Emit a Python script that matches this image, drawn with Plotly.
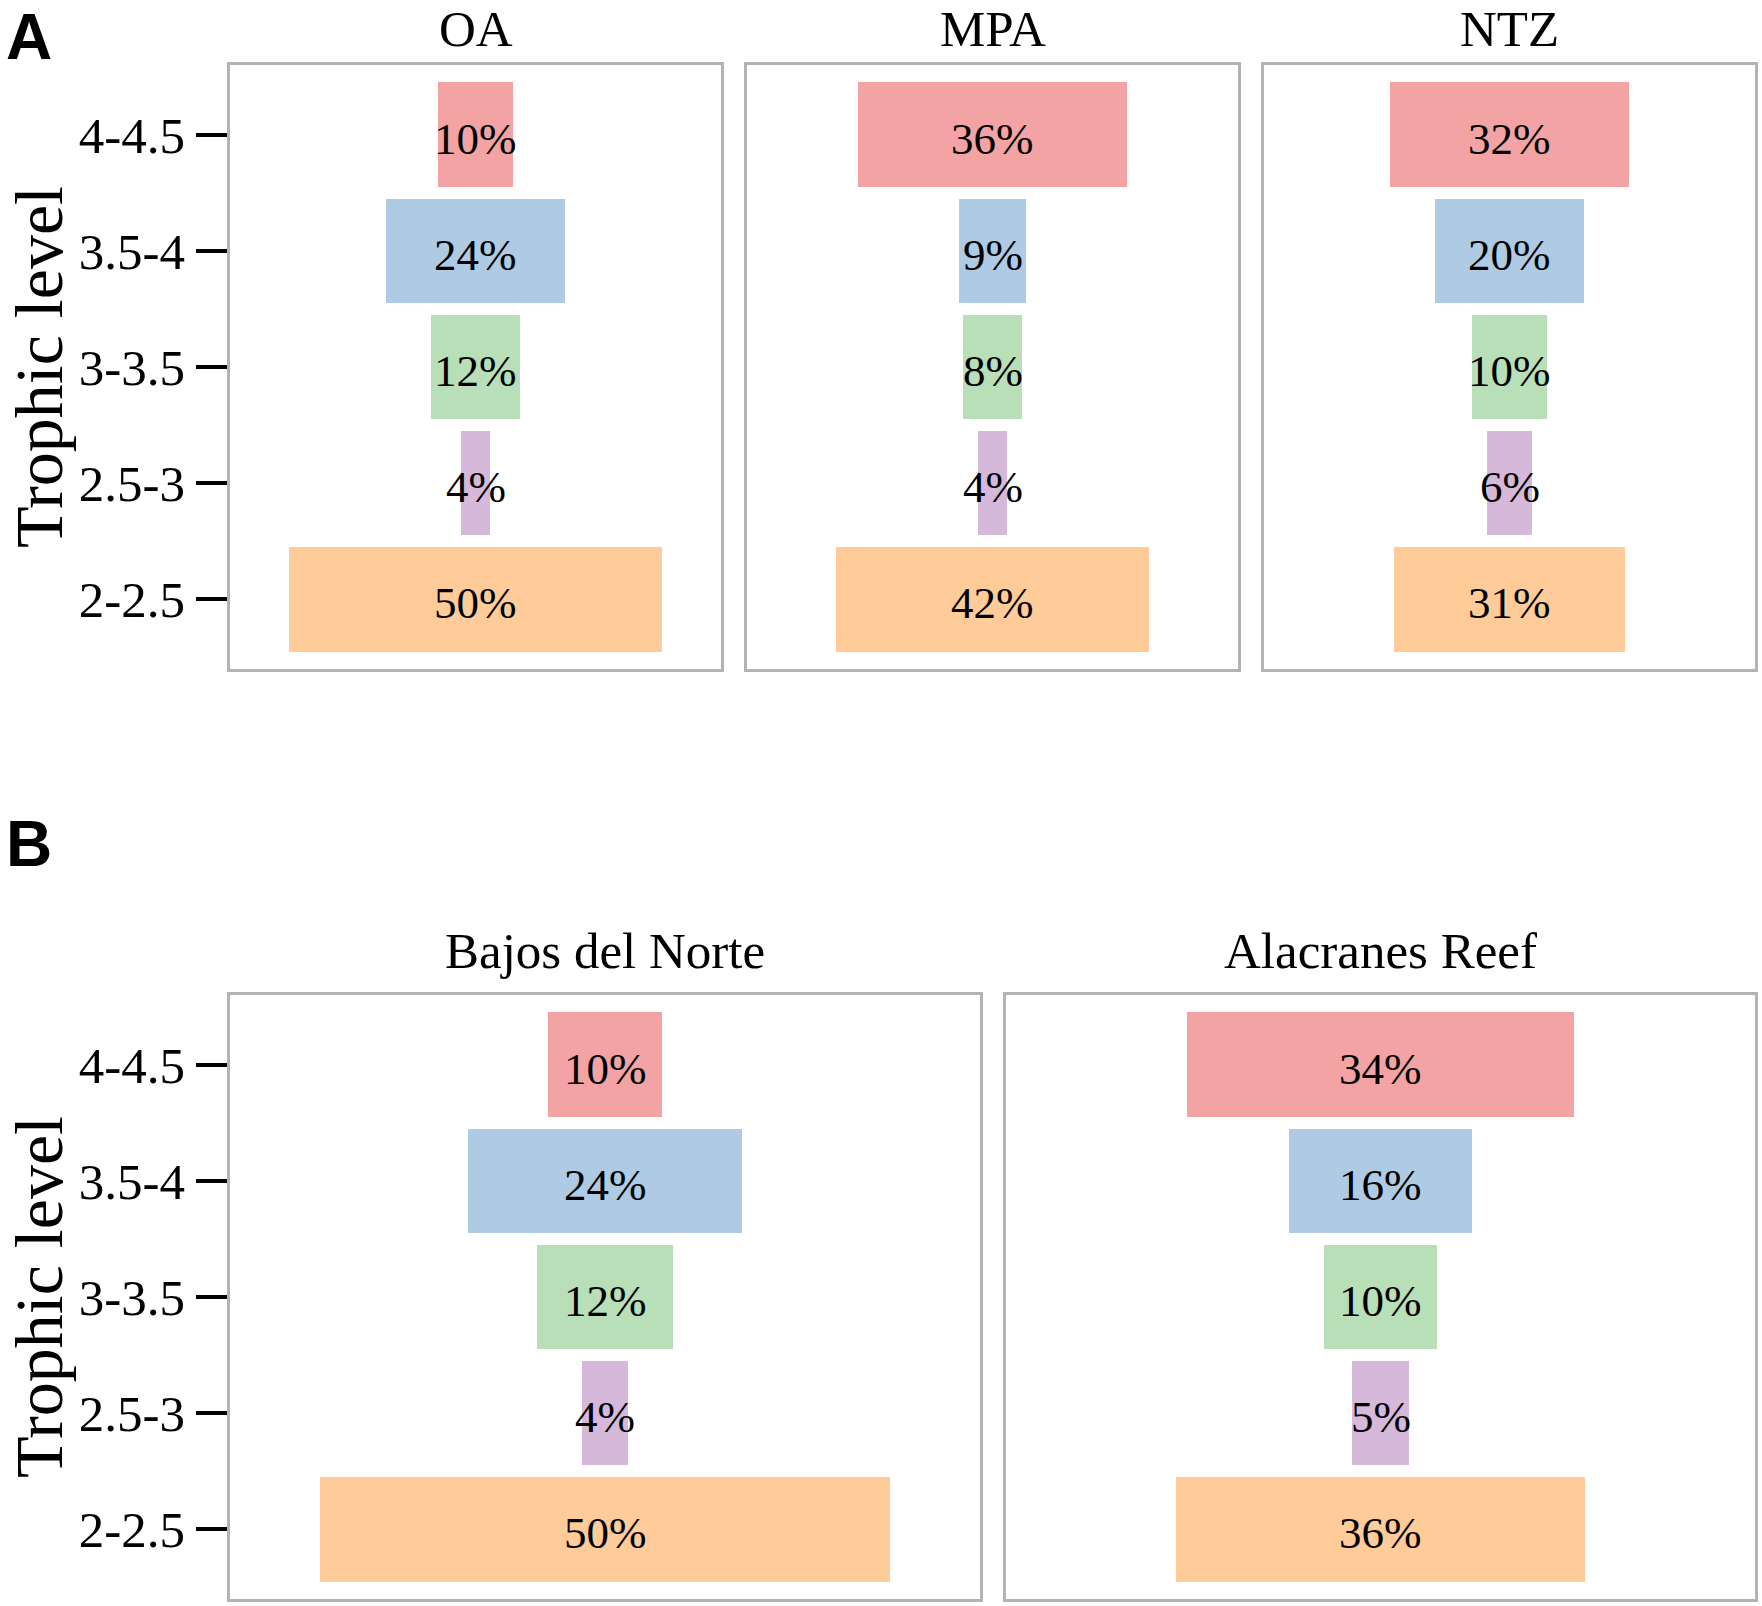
import plotly.graph_objects as go

# Trophic pyramids: share of fish biomass per trophic level class
levels = ["2-2.5", "2.5-3", "3-3.5", "3.5-4", "4-4.5"]

oa = [50, 4, 12, 24, 10]
mpa = [42, 4, 8, 9, 36]
ntz = [31, 6, 10, 20, 32]
bajos = [50, 4, 12, 24, 10]
alacranes = [36, 5, 10, 16, 34]

panel_names = ["OA", "MPA", "NTZ", "Bajos del Norte", "Alacranes Reef"]
panel_values = [oa, mpa, ntz, bajos, alacranes]

# Set1 colours at 40% opacity over white
level_colors = ["#FFCC99", "#D6B8DA", "#B8DFB7", "#AFCBE3", "#F4A3A4"]

W, H = 1762, 1606

# panel boxes in pixels (left, right, top, bottom)
boxes = [
    (230, 721, 65, 669),
    (747, 1238, 65, 669),
    (1264, 1755, 65, 669),
    (230, 980, 995, 1599),
    (1006, 1755, 995, 1599),
]

SERIF = "Liberation Serif"
fig = go.Figure()

for i, (name, vals) in enumerate(zip(panel_names, panel_values)):
    n = "" if i == 0 else str(i + 1)
    fig.add_trace(go.Bar(
        y=levels, x=vals, base=[-v / 2 for v in vals], orientation="h",
        width=0.9, marker=dict(color=level_colors, line=dict(width=0)),
        xaxis="x" + n, yaxis="y" + n, showlegend=False, hoverinfo="skip"))

    # percentage labels, centred on each bar (a touch below centre like the original)
    for lev, v in zip(levels, vals):
        fig.add_annotation(
            text=f"{v}%", x=0, y=lev, xref="x" + n, yref="y" + n,
            xanchor="center", yanchor="middle", yshift=-4, showarrow=False,
            font=dict(family=SERIF, size=45, color="black"))

    l, r, t, b = boxes[i]
    left_panel = i in (0, 3)
    fig.layout["xaxis" + n] = dict(
        domain=[l / W, r / W], range=[-32.9, 32.9], anchor="y" + n,
        showticklabels=False, ticks="", showgrid=False, zeroline=False,
        showline=True, mirror=True, linecolor="#B3B3B3", linewidth=2.5)
    fig.layout["yaxis" + n] = dict(
        domain=[1 - b / H, 1 - t / H], range=[-0.6, 4.6], anchor="x" + n,
        type="category", categoryorder="array", categoryarray=levels,
        showgrid=False, zeroline=False,
        showline=True, mirror=True, linecolor="#B3B3B3", linewidth=2.5,
        showticklabels=left_panel, ticks="outside" if left_panel else "",
        ticklen=31, tickwidth=3.5, tickcolor="black", ticklabelstandoff=1,
        tickfont=dict(family=SERIF, size=51, color="black"))

    # panel title
    fig.add_annotation(
        text=name, x=(l + r) / 2 / W, y=1 - max(t - 73, 0) / H,
        xref="paper", yref="paper", xanchor="center", yanchor="top",
        borderpad=0, showarrow=False,
        font=dict(family=SERIF, size=51, color="black"))

# y axis titles
for t, b in [(65, 669), (995, 1599)]:
    fig.add_annotation(
        text="Trophic level", x=0, y=1 - (t + b) / 2 / H,
        xref="paper", yref="paper", xanchor="left", yanchor="middle",
        textangle=-90, borderpad=0, showarrow=False,
        font=dict(family=SERIF, size=68, color="black"))

# panel letters
fig.add_annotation(
    text="<b>A</b>", x=5 / W, y=1,
    xref="paper", yref="paper", xanchor="left", yanchor="top",
    borderpad=0, showarrow=False,
    font=dict(family="Liberation Sans", size=64, color="black"))
fig.add_annotation(
    text="<b>B</b>", x=5 / W, y=1 - 844 / H,
    xref="paper", yref="paper", xanchor="left", yanchor="middle",
    borderpad=0, showarrow=False,
    font=dict(family="Liberation Sans", size=64, color="black"))

fig.update_layout(
    width=W, height=H, margin=dict(l=0, r=0, t=0, b=0),
    paper_bgcolor="white", plot_bgcolor="white", bargap=0)

# drop the default page margin so the figure sits at the window corner
fig.write_html("out.html", config={"displayModeBar": False},
               post_script="document.body.style.margin='0';"
                           "document.body.style.overflow='hidden';")
